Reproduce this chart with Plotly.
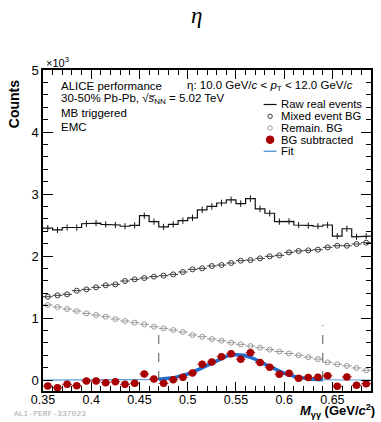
import numpy as np
import plotly.graph_objects as go

# Invariant-mass bins (GeV/c^2)
bin_centers = [0.355, 0.365, 0.375, 0.385, 0.395, 0.405, 0.415, 0.425, 0.435, 0.445,
               0.455, 0.465, 0.475, 0.485, 0.495, 0.505, 0.515, 0.525, 0.535, 0.545,
               0.555, 0.565, 0.575, 0.585, 0.595, 0.605, 0.615, 0.625, 0.635, 0.645,
               0.655, 0.665, 0.675, 0.685]
bin_half_width = 0.005

raw_real = [2450, 2420, 2460, 2460, 2520, 2530, 2510, 2500, 2480, 2495,
            2650, 2555, 2470, 2510, 2570, 2615, 2745, 2800, 2855, 2905,
            2845, 2925, 2760, 2690, 2555, 2560, 2500, 2490, 2480, 2500,
            2320, 2440, 2310, 2320]

mixed_bg = [1344, 1366, 1382, 1441, 1462, 1495, 1527, 1543, 1597, 1624,
            1645, 1667, 1683, 1704, 1742, 1785, 1801, 1839, 1855, 1887,
            1925, 1935, 1962, 1995, 2011, 2059, 2081, 2091, 2102, 2140,
            2166, 2166, 2194, 2215]

remain_bg = [1210, 1177, 1145, 1113, 1075, 1048, 1022, 984, 952, 925,
             898, 860, 833, 806, 774, 726, 699, 661, 634, 602,
             575, 548, 521, 490, 460, 428, 398, 368, 338, 285,
             255, 228, 195, 155]

bg_subtracted = [-97, -124, -70, -91, -16, -16, -43, -27, -70, -54,
                 97, 16, -54, 5, 45, 113, 255, 290, 375, 425,
                 336, 441, 283, 207, 94, 110, 30, 40, 45, 67,
                 -100, 50, -85, -60]

# Gaussian fit parameters and fit range
fit_amplitude = 410.0
fit_mean = 0.551
fit_sigma = 0.030
fit_range = [0.47, 0.64]
fit_range_marker_heights = [833, 887]

x_range = [0.35, 0.69]
y_range = [-177, 5000]
x_tickvals = [0.35, 0.40, 0.45, 0.50, 0.55, 0.60, 0.65]
x_ticktext = ["0.35", "0.4", "0.45", "0.5", "0.55", "0.6", "0.65"]
y_tickvals = [0, 1000, 2000, 3000, 4000, 5000]
y_ticktext = ["0", "1", "2", "3", "4", "5"]

centers = np.array(bin_centers)
raw = np.array(raw_real, dtype=float)
raw_err = np.sqrt(raw)
sub_err = np.sqrt(raw)
half = [bin_half_width] * len(bin_centers)

# Step outline of the raw histogram from its bin edges
edges_lo = centers - bin_half_width
edges_hi = centers + bin_half_width
step_x = np.column_stack([edges_lo, edges_hi]).ravel()
step_y = np.repeat(raw, 2)

RED = "#a80000"
BLACK = "#111111"
DARK = "#3a3a3a"
LIGHT = "#9a9a9a"
FIT_DARK = "#1f6fd0"
FIT_LIGHT = "#5b9bdc"

fig = go.Figure()

# Remaining background
fig.add_trace(go.Scatter(
    x=bin_centers, y=remain_bg, mode="markers",
    marker=dict(symbol="circle-open", size=5, color=LIGHT, line=dict(width=1, color=LIGHT)),
    error_x=dict(type="data", array=half, color=LIGHT, thickness=1, width=0),
    showlegend=False))

# Mixed-event background
fig.add_trace(go.Scatter(
    x=bin_centers, y=mixed_bg, mode="markers",
    marker=dict(symbol="circle-open", size=5, color=DARK, line=dict(width=1, color=DARK)),
    error_x=dict(type="data", array=half, color=DARK, thickness=1, width=0),
    showlegend=False))

# Raw real events: histogram outline plus statistical error bars
fig.add_trace(go.Scatter(
    x=step_x, y=step_y, mode="lines",
    line=dict(color=BLACK, width=1.2), showlegend=False))
fig.add_trace(go.Scatter(
    x=bin_centers, y=raw_real, mode="markers",
    marker=dict(size=1, color=BLACK, opacity=0),
    error_y=dict(type="data", array=raw_err, color=BLACK, thickness=1, width=0),
    showlegend=False))

# Fit-range markers
for xv, hv in zip(fit_range, fit_range_marker_heights):
    fig.add_trace(go.Scatter(
        x=[xv, xv], y=[0, hv], mode="lines",
        line=dict(color="#555555", width=1, dash="dash"), showlegend=False))

# Fit function: full range (thin) and fit range (thick)
fx_full = np.linspace(x_range[0], x_range[1], 400)
fx_fit = np.linspace(fit_range[0], fit_range[1], 300)


def gauss(x):
    return fit_amplitude * np.exp(-0.5 * ((x - fit_mean) / fit_sigma) ** 2)


fig.add_trace(go.Scatter(
    x=fx_full, y=gauss(fx_full), mode="lines",
    line=dict(color=FIT_LIGHT, width=1.2), showlegend=False))
fig.add_trace(go.Scatter(
    x=fx_fit, y=gauss(fx_fit), mode="lines",
    line=dict(color=FIT_DARK, width=3.5), showlegend=False))

# Background-subtracted signal
fig.add_trace(go.Scatter(
    x=bin_centers, y=bg_subtracted, mode="markers",
    marker=dict(symbol="circle", size=7.5, color=RED),
    error_x=dict(type="data", array=half, color=RED, thickness=1, width=0),
    error_y=dict(type="data", array=sub_err, color=RED, thickness=1, width=0),
    showlegend=False))

FONT = "Liberation Sans, Arial, Helvetica, sans-serif"
W, H = 381, 422
ML, MR, MT, MB = 43, 8, 70, 31
PW, PH = W - ML - MR, H - MT - MB


def px(xp):
    return (xp - ML) / PW


def py(yp):
    return (H - MB - yp) / PH


annotations = []


def text(x, y, s, size=11.5, anchor="left", **kw):
    annotations.append(dict(
        x=px(x), y=py(y), xref="paper", yref="paper", text=s, showarrow=False,
        xanchor=anchor, yanchor="middle", borderpad=0,
        font=dict(family=FONT, size=size, color="black"), **kw))


text(60, 86.5, "ALICE performance")
text(60, 99.5, "30-50% Pb-Pb, √<i>s̅</i><sub>NN</sub> = 5.02 TeV")
text(60, 113.5, "MB triggered")
text(60, 127, "EMC")
text(187, 86.5, "η: 10.0 GeV/<i>c</i> &lt; <i>p</i><sub>T</sub> &lt; 12.0 GeV/<i>c</i>")

# Legend
legend_rows = [
    ("Raw real events", 104.5),
    ("Mixed event BG", 116.3),
    ("Remain. BG", 128.0),
    ("BG subtracted", 139.7),
    ("Fit", 151.3),
]
for label, yy in legend_rows:
    text(281, yy, label, size=11.3)

shapes = []
sx = px(271.5)
shapes.append(dict(type="line", xref="paper", yref="paper", x0=px(265), x1=px(278),
                   y0=py(104.5), y1=py(104.5), line=dict(color=BLACK, width=1.2)))
shapes.append(dict(type="line", xref="paper", yref="paper", x0=px(265), x1=px(278),
                   y0=py(151.3), y1=py(151.3), line=dict(color=FIT_LIGHT, width=1.5)))
for yy, col, r, fill in [(116.3, DARK, 2.2, "white"), (128.0, LIGHT, 2.2, "white"),
                         (139.7, RED, 3.8, RED)]:
    shapes.append(dict(type="circle", xref="paper", yref="paper", xsizemode="pixel",
                       ysizemode="pixel", xanchor=sx, yanchor=py(yy), x0=-r, x1=r, y0=-r, y1=r,
                       line=dict(color=col, width=1), fillcolor=fill))

# Titles
annotations.append(dict(x=px(197), y=py(16), xref="paper", yref="paper", text="<i>η</i>",
                        showarrow=False, xanchor="center", yanchor="middle",
                        font=dict(family="Liberation Serif, DejaVu Serif, serif", size=23, color="black")))
annotations.append(dict(x=px(14), y=py(104), xref="paper", yref="paper", text="<b>Counts</b>",
                        textangle=-90, showarrow=False, xanchor="center", yanchor="middle",
                        font=dict(family=FONT, size=14, color="black")))
annotations.append(dict(x=px(44), y=py(62), xref="paper", yref="paper", text="×10<sup>3</sup>",
                        showarrow=False, xanchor="left", yanchor="middle",
                        font=dict(family=FONT, size=11, color="black")))
annotations.append(dict(x=px(378), y=py(421), xref="paper", yref="paper",
                        text="<b><i>M</i><sub>γγ</sub> (GeV/<i>c</i><sup>2</sup>)</b>",
                        showarrow=False, xanchor="right", yanchor="bottom", borderpad=0,
                        font=dict(family=FONT, size=13, color="black")))
annotations.append(dict(x=px(12), y=py(414), xref="paper", yref="paper", text="ALI-PERF-337023",
                        showarrow=False, xanchor="left", yanchor="middle",
                        font=dict(family="Liberation Mono, DejaVu Sans Mono, monospace", size=8,
                                  color="#aaaaaa")))

fig.update_layout(
    width=W, height=H, margin=dict(l=ML, r=MR, t=MT, b=MB),
    plot_bgcolor="white", paper_bgcolor="white",
    font=dict(family=FONT, size=13, color="black"),
    annotations=annotations, shapes=shapes, showlegend=False,
)
fig.update_xaxes(
    range=x_range, showgrid=False, zeroline=False, showline=True, linecolor="black",
    linewidth=1.5, mirror="allticks", ticks="inside", ticklen=9, tickwidth=1,
    tickcolor="black", tickvals=x_tickvals, ticktext=x_ticktext,
    tickfont=dict(size=12.5), ticklabelstandoff=-4,
    minor=dict(ticks="inside", ticklen=5, tickwidth=1, tickcolor="black", dtick=0.01, tick0=0.35),
)
fig.update_yaxes(
    range=y_range, showgrid=False, zeroline=False, showline=True, linecolor="black",
    linewidth=1.5, mirror="allticks", ticks="inside", ticklen=10, tickwidth=1,
    tickcolor="black", tickvals=y_tickvals, ticktext=y_ticktext,
    tickfont=dict(size=13),
    minor=dict(ticks="inside", ticklen=5, tickwidth=1, tickcolor="black", dtick=200, tick0=0),
)

fig.write_html("out.html")
